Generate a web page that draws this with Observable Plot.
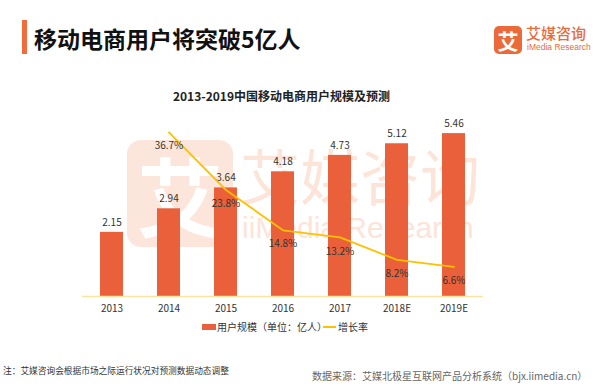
<!DOCTYPE html>
<html>
<head>
<meta charset="utf-8">
<script src="https://cdn.jsdelivr.net/npm/d3@7"></script>
<script src="https://cdn.jsdelivr.net/npm/@observablehq/plot@0.6"></script>
<style>
  html, body { margin: 0; padding: 0; background: #fff; }
  #page { position: relative; width: 599px; height: 387px; overflow: hidden; font-family: "Noto Sans CJK SC", "Noto Sans", sans-serif; color: #222; }
  .abs { position: absolute; white-space: nowrap; }
  #chart { position: absolute; left: 0; top: 100px; }
</style>
</head>
<body>
<div id="page">
  <!-- header -->
  <div class="abs" style="left:22px;top:20px;width:5px;height:34px;background:#F26B3A;"></div>
  <div class="abs" style="left:34px;top:23px;font-size:23px;line-height:30px;font-weight:700;color:#111;">移动电商用户将突破5亿人</div>
  <div class="abs" style="left:494px;top:26px;width:28px;height:28px;border-radius:5px;background:#EC6A3A;color:#fff;font-size:21px;line-height:28px;text-align:center;font-weight:700;">艾</div>
  <div class="abs" style="left:526px;top:25px;font-size:15px;line-height:16px;color:#EC6A3A;font-weight:500;">艾媒咨询</div>
  <div class="abs" style="left:527px;top:42px;font-size:8.5px;line-height:10px;color:#EC6A3A;font-family:'Liberation Sans',sans-serif;">iMedia Research</div>

  <!-- watermark -->
  <div class="abs" style="left:127px;top:140px;width:106px;height:107px;border-radius:14px;background:#FCE6DC;color:#fff;font-size:86px;line-height:107px;text-align:center;font-weight:700;">艾</div>
  <div class="abs" style="left:240px;top:138px;font-size:60px;line-height:72px;color:#FCE4D8;">艾媒咨询</div>
  <div class="abs" style="left:242px;top:210px;font-size:30px;line-height:36px;color:#FCE4D8;font-family:'Liberation Sans',sans-serif;">iiMedia Research</div>

  <!-- chart title -->
  <div class="abs" style="left:0;width:563px;top:88px;text-align:center;font-size:12px;line-height:16px;font-weight:700;color:#222;">2013-2019中国移动电商用户规模及预测</div>

  <div id="chart"></div>

  <!-- legend -->
  <div class="abs" style="left:202px;top:324px;width:14px;height:6px;background:#E9603A;"></div>
  <div class="abs" style="left:217px;top:320px;font-size:10px;line-height:13px;color:#333;">用户规模（单位：亿人）</div>
  <div class="abs" style="left:323px;top:326px;width:13px;height:2px;background:#FFC000;"></div>
  <div class="abs" style="left:338px;top:320px;font-size:10px;line-height:13px;color:#333;">增长率</div>

  <!-- footer -->
  <div class="abs" style="left:3px;top:365px;font-size:8.7px;line-height:12px;color:#333;">注：艾媒咨询会根据市场之际运行状况对预测数据动态调整</div>
  <div class="abs" style="left:312px;top:369px;font-size:10px;line-height:14px;color:#666;">数据来源：艾媒北极星互联网产品分析系统（bjx.iimedia.cn）</div>
</div>
<script>
const years = ["2013", "2014", "2015", "2016", "2017", "2018E", "2019E"];
const users = [2.15, 2.94, 3.64, 4.18, 4.73, 5.12, 5.46];
const growthYears = ["2014", "2015", "2016", "2017", "2018E", "2019E"];
const growth = [36.7, 23.8, 14.8, 13.2, 8.2, 6.6];

const barData = years.map((y, i) => ({year: y, v: users[i]}));
const lineData = growthYears.map((y, i) => ({year: y, g: growth[i]}));
const gScale = 6 / 40; // secondary axis 0–40% mapped onto primary 0–6

const chart = Plot.plot({
  width: 599,
  height: 220,
  marginLeft: 82,
  marginRight: 116,
  marginTop: 17,
  marginBottom: 24,
  style: {background: "transparent", fontFamily: "'Noto Sans CJK SC', sans-serif", fontSize: "10px", color: "#333"},
  x: {domain: years, paddingInner: 0.6, paddingOuter: 0.3, tickSize: 0, tickPadding: 8, label: null},
  y: {domain: [0, 6], axis: null},
  marks: [
    Plot.barY(barData, {x: "year", y: "v", fill: "#E9603A"}),
    Plot.ruleY([0], {stroke: "#FBE3A0", strokeWidth: 1.5}),
    Plot.text(barData, {x: "year", y: "v", text: d => d.v.toFixed(2), dy: -10, fontSize: 10, fill: "#333"}),
    Plot.line(lineData, {x: "year", y: d => d.g * gScale, stroke: "#FFC000", strokeWidth: 1.8}),
    Plot.text(lineData, {x: "year", y: d => d.g * gScale, text: d => d.g.toFixed(1) + "%", dy: 14, fontSize: 10, fill: "#333"})
  ]
});
document.getElementById("chart").appendChild(chart);
</script>
</body>
</html>
